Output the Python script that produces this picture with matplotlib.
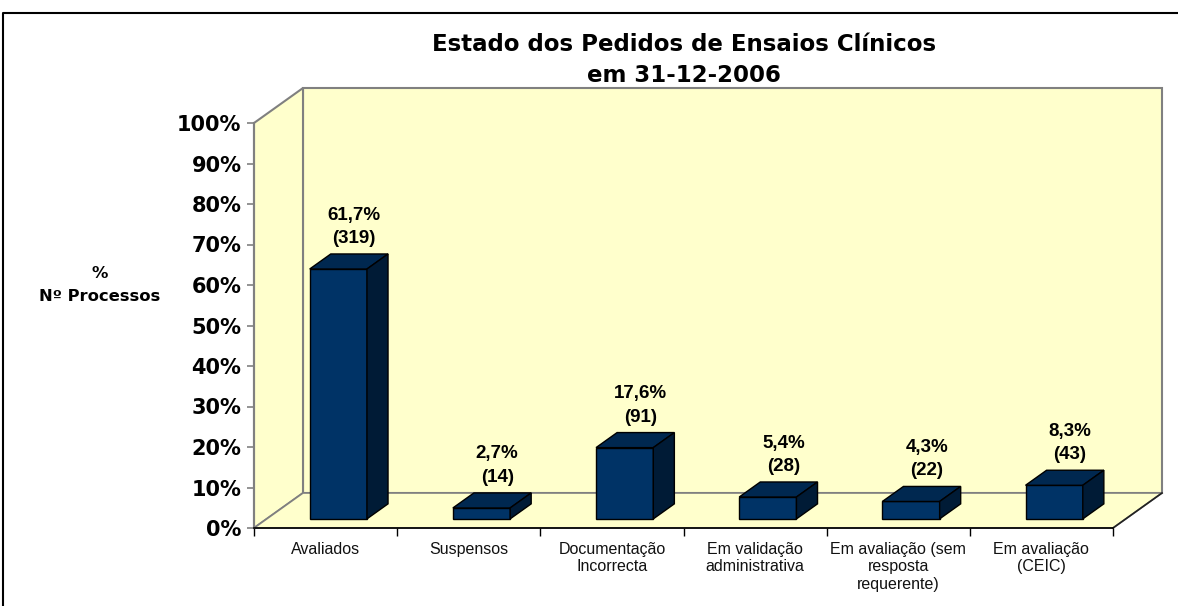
import matplotlib
matplotlib.use("Agg")
import matplotlib.pyplot as plt
from matplotlib.patches import Polygon
from matplotlib.lines import Line2D

# ---- data ----
categories = ["Avaliados", "Suspensos", "Documentação\nIncorrecta",
              "Em validação\nadministrativa", "Em avaliação (sem\nresposta\nrequerente)",
              "Em avaliação\n(CEIC)"]
percent = [61.7, 2.7, 17.6, 5.4, 4.3, 8.3]
counts = [319, 14, 91, 28, 22, 43]
pct_labels = ["61,7%", "2,7%", "17,6%", "5,4%", "4,3%", "8,3%"]
yticks = [0, 10, 20, 30, 40, 50, 60, 70, 80, 90, 100]
ytick_labels = [f"{v}%" for v in yticks]
title = "Estado dos Pedidos de Ensaios Clínicos\nem 31-12-2006"
ylabel = "%\nNº Processos"

# ---- style ----
W, H = 1178, 606
WALL = "#FFFFCC"
WALL_EDGE = "#808080"
FRONT = "#003366"
TOP = "#002850"
SIDE = "#001B36"

fig = plt.figure(figsize=(W / 100, H / 100), dpi=100)
fig.patch.set_facecolor("white")

# front plane of the 3D box in pixels
x0, x1 = 254, 1113
y0, y1 = 528, 123
ax = fig.add_axes([x0 / W, 1 - y0 / H, (x1 - x0) / W, (y0 - y1) / H])
ax.set_facecolor("none")
n = len(categories)
ax.set_xlim(0, n)
ax.set_ylim(0, 100)

px_per_cat = (x1 - x0) / n
px_per_pct = (y0 - y1) / 100
DX = 49 / px_per_cat
DY = 35 / px_per_pct


def P(x, y, d):
    return (x + d * DX, y + d * DY)


# walls
back = Polygon([P(0, 0, 1), P(0, 100, 1), P(n, 100, 1), P(n, 0, 1)],
               closed=True, facecolor=WALL, edgecolor=WALL_EDGE, lw=1.5,
               clip_on=False, zorder=1)
side = Polygon([P(0, 0, 0), P(0, 100, 0), P(0, 100, 1), P(0, 0, 1)],
               closed=True, facecolor=WALL, edgecolor=WALL_EDGE, lw=1.5,
               clip_on=False, zorder=1)
floor = Polygon([P(0, 0, 0), P(n, 0, 0), P(n, 0, 1), P(0, 0, 1)],
                closed=True, facecolor=WALL, edgecolor=WALL_EDGE, lw=1.2,
                clip_on=False, zorder=1)
for p in (back, side, floor):
    ax.add_patch(p)
# right floor edge darker
xa, ya = P(n, 0, 0)
xb, yb = P(n, 0, 1)
ax.add_line(Line2D([xa, xb], [ya, yb], color="#222222", lw=1.2, clip_on=False, zorder=2))

# bars
bw = 0.4
d0, d1 = 0.26, 0.69
for i, v in enumerate(percent):
    c = i + 0.5
    l, r = c - bw / 2, c + bw / 2
    base = 0
    top = v
    fpts = [P(l, base, d0), P(r, base, d0), P(r, top, d0), P(l, top, d0)]
    ax.add_patch(Polygon(fpts, closed=True, facecolor=FRONT, edgecolor="black",
                         lw=1.0, clip_on=False, zorder=5))
    tpts = [P(l, top, d0), P(r, top, d0), P(r, top, d1), P(l, top, d1)]
    ax.add_patch(Polygon(tpts, closed=True, facecolor=TOP, edgecolor="black",
                         lw=1.0, clip_on=False, zorder=5))
    spts = [P(r, base, d0), P(r, base, d1), P(r, top, d1), P(r, top, d0)]
    ax.add_patch(Polygon(spts, closed=True, facecolor=SIDE, edgecolor="black",
                         lw=1.0, clip_on=False, zorder=5))
    lx, ly = P(c, top, 0.58)
    ax.annotate(f"{pct_labels[i]}\n({counts[i]})", (lx, ly + (d1 - 0.58) * DY),
                xytext=(0, 5), textcoords="offset points", ha="center", va="bottom",
                fontsize=13.5, fontweight="bold", family="Liberation Sans",
                linespacing=1.5, zorder=6, annotation_clip=False)

# axes styling
for s in ("top", "right"):
    ax.spines[s].set_visible(False)
ax.spines["left"].set_color(WALL_EDGE)
ax.spines["left"].set_linewidth(1.5)
ax.spines["bottom"].set_color("black")
ax.spines["bottom"].set_linewidth(1.2)
ax.spines["left"].set_zorder(3)
ax.spines["bottom"].set_zorder(3)

ax.set_yticks(yticks)
ax.set_yticklabels(ytick_labels, fontsize=15, fontweight="bold", family="DejaVu Sans")
ax.tick_params(axis="y", direction="out", length=5, width=1.2, color=WALL_EDGE, pad=4)

ax.set_xticks(range(n + 1))
ax.set_xticklabels([""] * (n + 1))
ax.tick_params(axis="x", which="major", direction="out", length=6, width=1, color="black")
ax.set_xticks([i + 0.5 for i in range(n)], minor=True)
ax.set_xticklabels(categories, minor=True, fontsize=11.5, family="Liberation Sans",
                   color="#111111", linespacing=1.2)
ax.tick_params(axis="x", which="minor", length=0, pad=10)

# y label
fig.text(100 / W, 1 - 285 / H, ylabel, ha="center", va="center", fontsize=11.8,
         fontweight="bold", family="DejaVu Sans", linespacing=1.7)

# title
fig.text(684 / W, 1 - 60 / H, title, ha="center", va="center", fontsize=16.5,
         fontweight="bold", family="DejaVu Sans", linespacing=1.45)

# outer border (left and top)
fig.add_artist(Line2D([3 / W, 3 / W, 1.0], [0, 1 - 13 / H, 1 - 13 / H],
                      color="black", lw=1.5, transform=fig.transFigure))

fig.savefig("out.png", dpi=100)
